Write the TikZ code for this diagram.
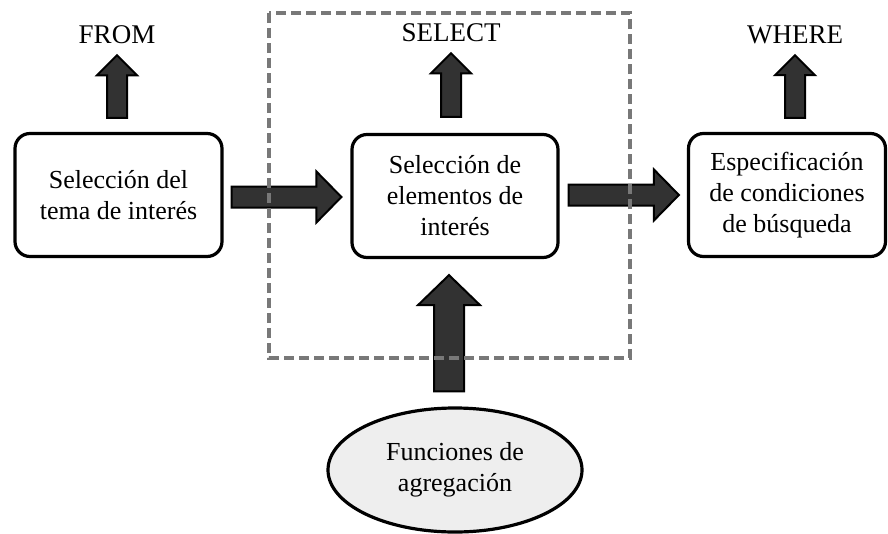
\documentclass[tikz,border=0pt]{standalone}
\usepackage{fontspec}
\setmainfont{Liberation Serif}
\usetikzlibrary{calc,shapes.geometric}
\definecolor{arrowgray}{RGB}{50,50,50}
\definecolor{framegray}{RGB}{120,120,120}
\definecolor{ovalgray}{RGB}{238,238,238}

\tikzset{
  stepbox/.style={draw, line width=3.2pt, rounded corners=15pt, align=center,
    minimum height=123pt, font=\fontsize{26}{31}\selectfont},
  keyword/.style={font=\fontsize{27}{30}\selectfont, inner sep=0pt},
  blockarr/.style={fill=arrowgray, draw=black, line width=2pt, line join=miter},
}

% block arrow: start, end, shaft half width, head half width, head length
\newcommand{\blockarrow}[5]{%
  \draw[blockarr] let \p1=(#1), \p2=(#2),
      \n1={veclen(\x2-\x1,\y2-\y1)},
      \n2={(\x2-\x1)/\n1}, \n3={(\y2-\y1)/\n1} in
    ({\x1-(\n3)*#3pt},{\y1+(\n2)*#3pt})
    -- ({\x2-(\n2)*#5pt-(\n3)*#3pt},{\y2-(\n3)*#5pt+(\n2)*#3pt})
    -- ({\x2-(\n2)*#5pt-(\n3)*#4pt},{\y2-(\n3)*#5pt+(\n2)*#4pt})
    -- (\p2)
    -- ({\x2-(\n2)*#5pt+(\n3)*#4pt},{\y2-(\n3)*#5pt-(\n2)*#4pt})
    -- ({\x2-(\n2)*#5pt+(\n3)*#3pt},{\y2-(\n3)*#5pt-(\n2)*#3pt})
    -- ({\x1+(\n3)*#3pt},{\y1-(\n2)*#3pt}) -- cycle;}

\begin{document}
\begin{tikzpicture}[x=1pt,y=-1pt]
\useasboundingbox (0,0) rectangle (888,533);
%Boxes
\node[stepbox, minimum width=207pt] (tema) at (118.5,195) {Selección del\\tema de interés};
\node[stepbox, minimum width=206pt] (elem) at (455,196) {Selección de\\elementos de\\interés};
\node[stepbox, minimum width=197pt] (cond) at (787,195) {Especificación\\de condiciones\\de búsqueda};
\node[draw, ellipse, line width=3.2pt, fill=ovalgray, minimum width=254pt, minimum height=124pt,
  align=center, font=\fontsize{26}{31}\selectfont] (agg) at (455,470) {Funciones de\\agregación};
%Keywords
\node[keyword] (from) at (117,35) {FROM};
\node[keyword] (select) at (451,33) {SELECT};
\node[keyword] (where) at (795,35) {WHERE};
%Arrows up
\blockarrow{$(from.south |- tema.north)+(0,-14)$}{$(from.south)+(0,11)$}{10}{20}{20}
\blockarrow{$(select.south |- elem.north)+(0,-16)$}{$(select.south)+(0,11)$}{10}{20}{20}
\blockarrow{$(where.south |- cond.north)+(0,-14)$}{$(where.south)+(0,11)$}{10}{20}{20}
%Arrows between boxes
\blockarrow{$(tema.east)+(8,2)$}{$(elem.west)+(-9,1)$}{10.5}{25.5}{25}
\blockarrow{$(elem.east)+(9,-1)$}{$(cond.west)+(-8,0)$}{10.5}{25.5}{25}
\blockarrow{$(agg.north)+(-6,-15)$}{$(elem.south)+(-6,16)$}{15}{31}{30}
%Select frame
\draw[framegray, line width=3.2pt, dash pattern=on 10pt off 5pt] (269,13) rectangle (630,358);
\end{tikzpicture}
\end{document}
